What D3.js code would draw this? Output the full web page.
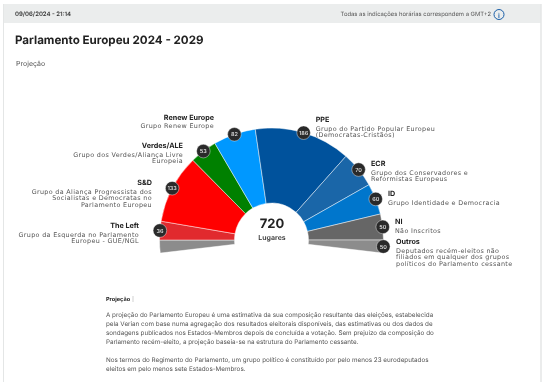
<!DOCTYPE html>
<html><head><meta charset="utf-8">
<script src="https://cdn.jsdelivr.net/npm/d3@7/dist/d3.min.js"></script>
<style>html,body{margin:0;padding:0;background:#fff}svg{display:block;font-family:Inter,sans-serif;text-rendering:geometricPrecision;filter:blur(.3px)}</style>
</head><body><svg id="c" width="548" height="382"></svg>
<script>
const groups=["The Left","S&D","Verdes/ALE","Renew Europe","PPE","ECR","ID","NI","Outros"];
const seats=[36,133,53,82,186,70,60,50,50];
const colors=["#e12a2e","#ff0000","#008000","#0098ff","#00529c","#1a66a8","#0076cc","#666666","#8c8c8c"];
const descriptions=[
 ["Grupo da Esquerda no Parlamento","Europeu - GUE/NGL"],
 ["Grupo da Aliança Progressista dos","Socialistas e Democratas no","Parlamento Europeu"],
 ["Grupo dos Verdes/Aliança Livre","Europeia"],
 ["Grupo Renew Europe"],
 ["Grupo do Partido Popular Europeu","(Democratas-Cristãos)"],
 ["Grupo dos Conservadores e","Reformistas Europeus"],
 ["Grupo Identidade e Democracia"],
 ["Não Inscritos"],
 ["Deputados recém-eleitos não","filiados em qualquer dos grupos","políticos do Parlamento cessante"]];
const labelAnchors=[[139,228],[152,185],[183,148],[214,119.5],[315.7,122],[371,166],[388,196],[395,224],[396,244]];
const body=["A projeção do Parlamento Europeu é uma estimativa da sua composição resultante das eleições, estabelecida",
"pela Verian com base numa agregação dos resultados eleitorais disponíveis, das estimativas ou dos dados de",
"sondagens publicados nos Estados-Membros depois de concluída a votação. Sem prejuízo da composição do",
"Parlamento recém-eleito, a projeção baseia-se na estrutura do Parlamento cessante."];
const body2=["Nos termos do Regimento do Parlamento, um grupo político é constituído por pelo menos 23 eurodeputados","eleitos em pelo menos sete Estados-Membros."];
const total=d3.sum(seats);
const svg=d3.select("#c");
const cx=271.5,cy=240,R=112,r0=37;
svg.append("rect").attr("x",3).attr("y",4).attr("width",538).attr("height",378).attr("fill","#fff");
svg.append("rect").attr("x",3).attr("y",4).attr("width",538).attr("height",19).attr("fill","#ebeded");
svg.append("line").attr("x1",3.5).attr("x2",3.5).attr("y1",4).attr("y2",382).attr("stroke","#e4e6e6");
svg.append("line").attr("x1",541).attr("x2",541).attr("y1",4).attr("y2",382).attr("stroke","#e4e6e6").attr("stroke-width",1.5);
svg.append("text").attr("x",15).attr("y",16).attr("font-size",6).attr("font-weight",600).attr("fill","#333").text("09/06/2024 - 21:14");
svg.append("text").attr("x",491).attr("y",16).attr("text-anchor","end").attr("font-size",5.9).attr("fill","#555").text("Todas as indicações horárias correspondem a GMT+2");
svg.append("circle").attr("cx",499).attr("cy",14.5).attr("r",5).attr("fill","none").attr("stroke","#1a5fa8").attr("stroke-width",1);
svg.append("text").attr("x",499).attr("y",17.5).attr("text-anchor","middle").attr("font-size",7).attr("font-weight",600).attr("fill","#1a5fa8").text("i");
svg.append("text").attr("x",15).attr("y",44).attr("font-size",11.6).attr("font-weight",700).attr("fill","#222").text("Parlamento Europeu 2024 - 2029");
svg.append("text").attr("x",16).attr("y",66).attr("font-size",7).attr("fill","#555").text("Projeção");
// Outros spans both ends of the hemicycle, half of its seats on each side
const half=seats[8]/2;
const ang=d3.scaleLinear().domain([0,total]).range([-Math.PI/2*(total/(total-seats[8])),Math.PI/2*(total/(total-seats[8]))]);
const segs=[{i:8,a:0,b:half}];
let acc=half;
seats.slice(0,8).forEach((v,i)=>{segs.push({i,a:acc,b:acc+v});acc+=v;});
segs.push({i:8,a:acc,b:acc+half});
const arc=d3.arc().innerRadius(r0).outerRadius(R);
const g=svg.append("g").attr("transform",`translate(${cx},${cy})`);
g.selectAll("path").data(segs).join("path")
 .attr("d",d=>arc({startAngle:ang(d.a),endAngle:ang(d.b)}))
 .attr("fill",d=>colors[d.i]).attr("stroke","#fff").attr("stroke-opacity",.65).attr("stroke-width",.7);
const bub=segs.slice(1);
const mid=d=>(ang(d.a)+ang(d.b))/2;
const bg=g.selectAll("g.b").data(bub).join("g").attr("class","b")
 .attr("transform",d=>`translate(${Math.sin(mid(d))*R},${-Math.cos(mid(d))*R})`);
bg.append("circle").attr("r",6.8).attr("fill","#2a2a2a").attr("stroke","#fff").attr("stroke-opacity",.6).attr("stroke-width",.7);
bg.append("text").attr("text-anchor","middle").attr("y",2).attr("font-size",5.5).attr("font-weight",600).attr("fill","#ddd").text(d=>seats[d.i]);
svg.append("text").attr("x",272).attr("y",228).attr("text-anchor","middle").attr("font-size",13).attr("font-weight",700).attr("fill","#222").text(total);
svg.append("text").attr("x",272).attr("y",239.5).attr("text-anchor","middle").attr("font-size",7).attr("font-weight",600).attr("fill","#333").text("Lugares");
groups.forEach((n,i)=>{
 const [x,y]=labelAnchors[i];const left=i<4;
 const t=svg.append("text").attr("text-anchor",left?"end":"start");
 t.append("tspan").attr("x",x).attr("y",y).attr("font-size",7.2).attr("font-weight",700).attr("fill","#222").text(n);
 descriptions[i].forEach((l,k)=>t.append("tspan").attr("x",x).attr("y",y+8.5+k*6.8).attr("font-family","DejaVu Sans").attr("font-size",6.4).attr("letter-spacing",.34).attr("fill","#555").text(l));
});
svg.append("text").attr("x",106).attr("y",301).attr("font-size",5.6).attr("font-weight",700).attr("fill","#222").text("Projeção");
svg.append("line").attr("x1",133).attr("x2",133).attr("y1",296).attr("y2",302).attr("stroke","#888").attr("stroke-width",.4);
body.forEach((l,i)=>svg.append("text").attr("x",106).attr("y",316.5+i*9).attr("font-size",6.3).attr("fill","#555").text(l));
body2.forEach((l,i)=>svg.append("text").attr("x",106).attr("y",362+i*9).attr("font-size",6.3).attr("fill","#555").text(l));
</script></body></html>
